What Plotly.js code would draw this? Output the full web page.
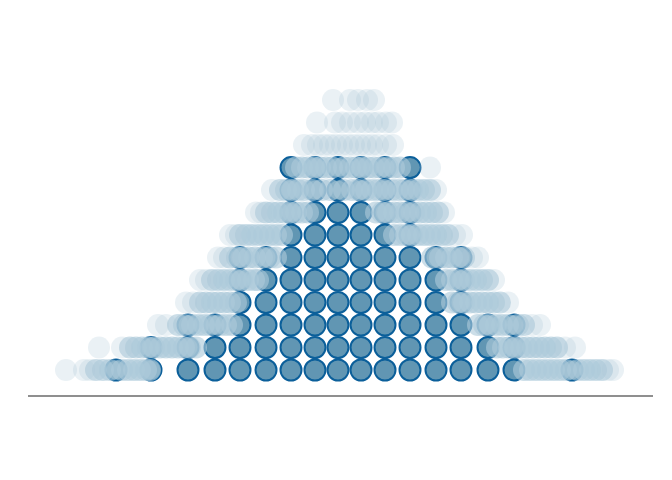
<!DOCTYPE html>
<html><head><meta charset="utf-8">
<script src="https://cdn.plot.ly/plotly-3.0.1.min.js"></script>
<style>html,body{margin:0;padding:0;background:#fff}#chart{width:672px;height:480px}</style>
</head><body><div id="chart"></div>
<script>
// current frame: dot-plot bins (x position) and stack counts
const binX = [-224,-189,-152,-125,-100,-74,-49,-25,-2,21,45,70,96,121,148,174,232];
const binCount = [1,2,3,3,6,6,10,10,10,10,10,10,6,6,3,3,1];

// ghost trail dots (denser), one list per stack row (row 1 = bottom)
const trailX = [
  [-244,-237,-230,-218,-212,-206,-200,-194,-190,184,190,196,202,208,214,220,226,238,244,250,256,262],
  [-210,-204,-198,-192,-186,-180,-174,-168,-162,-156,-150,-144,157,163,169,175,181,187,193,199,205,211,217],
  [-162,-156,-148,-142,-136,-130,-120,-114,-108,138,144,150,156,162,168,178,184],
  [-140,-134,-128,-122,-116,-110,-104,112,118,124,130,136,142,148,154,160],
  [-128,-122,-116,-110,-104,-98,-92,-86,-82,106,112,118,124,130,136,142,148],
  [-110,-103,-97,-91,-85,-78,-70,-64,92,100,106,112,118,124],
  [-100,-94,-88,-82,-76,-70,-64,-58,54,60,66,72,78,84,90,96,102,108],
  [-74,-68,-62,-56,-50,-44,-38,-32,36,42,48,54,60,66,74,80,86,92,98],
  [-60,-54,-48,-42,-36,-28,-18,-10,4,12,18,26,32,38,44,52,58,64,72,78,84,90],
  [-44,-38,-32,-26,-20,-14,-8,4,10,16,22,28,34,40,48,54,60],
  [],
  [],
  []
];

// faint ghost dots, one list per stack row
const faintX = [
  [-274,-256,-250,268,273],
  [-241,-218,225,235],
  [-182,-174,192,200],
  [-154,-147,168],
  [-140,-134,154],
  [-122,-116,132,138],
  [-110,-104,115,122],
  [-84,-79,104],
  [-68,96],
  [90],
  [-36,-28,-22,-16,-10,-4,2,8,14,20,26,32,38,46,53],
  [-23,-5,2,10,18,25,32,38,46,52],
  [-7,10,18,27,34]
];

const darkXs = [], darkYs = [];
binX.forEach((x, i) => {
  for (let k = 1; k <= binCount[i]; k++) { darkXs.push(x); darkYs.push(k); }
});
function flatten(rows) {
  const xs = [], ys = [];
  rows.forEach((row, r) => row.forEach(x => { xs.push(x); ys.push(r + 1); }));
  return {xs, ys};
}
const tr = flatten(trailX), fa = flatten(faintX);

const traces = [
  {type:'scatter', mode:'markers', x:darkXs, y:darkYs, hoverinfo:'skip',
   marker:{size:21, color:'#6196b3', line:{color:'#0b5f9a', width:2}}},
  {type:'scatter', mode:'markers', x:tr.xs, y:tr.ys, hoverinfo:'skip',
   marker:{size:22, color:'rgb(172,202,218)', opacity:0.62, line:{width:0}}},
  {type:'scatter', mode:'markers', x:fa.xs, y:fa.ys, hoverinfo:'skip',
   marker:{size:22, color:'rgb(172,202,218)', opacity:0.26, line:{width:0}}}
];

const layout = {
  width:672, height:480,
  margin:{l:28, r:19, t:40, b:85},
  showlegend:false,
  paper_bgcolor:'#ffffff', plot_bgcolor:'#ffffff',
  xaxis:{range:[-312,313], showline:true, linecolor:'#8f8f8f', linewidth:1.5,
         showgrid:false, zeroline:false, showticklabels:false, ticks:''},
  yaxis:{range:[-0.111,15.667], visible:false, showgrid:false, zeroline:false}
};

Plotly.newPlot('chart', traces, layout, {displayModeBar:false, staticPlot:true});
</script>
</body></html>
